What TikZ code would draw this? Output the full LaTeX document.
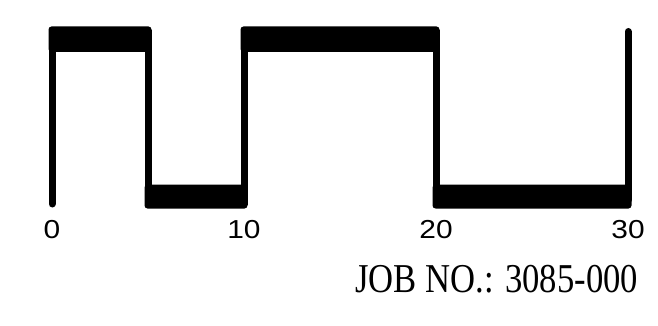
\documentclass[tikz,border=0pt]{standalone}
\usepackage{fontspec}
\setmainfont{Liberation Serif}
\newfontfamily\lblfont{Liberation Sans}
\begin{document}
\begin{tikzpicture}[x=1pt,y=-1pt,
  band/.style={fill=black,rounded corners=3pt},
  vline/.style={line width=7pt,line cap=round},
  tick/.style={anchor=base,inner sep=0pt,font=\lblfont\fontsize{26}{26}\selectfont},
  jobtext/.style={anchor=base west,inner sep=0pt,font=\fontsize{41}{41}\selectfont}]
\useasboundingbox (0,0) rectangle (658,326);
% bands
\fill[band] (48.5,52) -- (48.5,26.5) -- (151.5,26.5) -- (151.5,52) -- cycle;
\fill[band] (144.5,184.5) -- (144.5,208.5) -- (247.5,208.5) -- (247.5,184.5) -- cycle;
\fill[band] (240.5,52) -- (240.5,26.5) -- (439.5,26.5) -- (439.5,52) -- cycle;
\fill[band] (432.5,184.5) -- (432.5,208.5) -- (631.5,208.5) -- (631.5,184.5) -- cycle;
% verticals
\draw[vline] (52,40) -- (52,204);
\draw[line width=7pt] (148,30) -- (148,205);
\draw[line width=7pt] (244,30) -- (244,205);
\draw[line width=7pt] (436,30) -- (436,205);
\draw[vline] (628,31.5) -- (628,200);
% labels
\node[tick] (l0) at (52,238.5) {\scalebox{1.15}[1]{0}};
\node[tick] (l10) at (244,238.5) {\scalebox{1.15}[1]{10}};
\node[tick] (l20) at (436,238.5) {\scalebox{1.15}[1]{20}};
\node[tick] (l30) at (628,238.5) {\scalebox{1.15}[1]{30}};
\node[jobtext] (job) at (355,292) {\scalebox{0.845}[1]{JOB NO.: 3085-000}};
\end{tikzpicture}
\end{document}
